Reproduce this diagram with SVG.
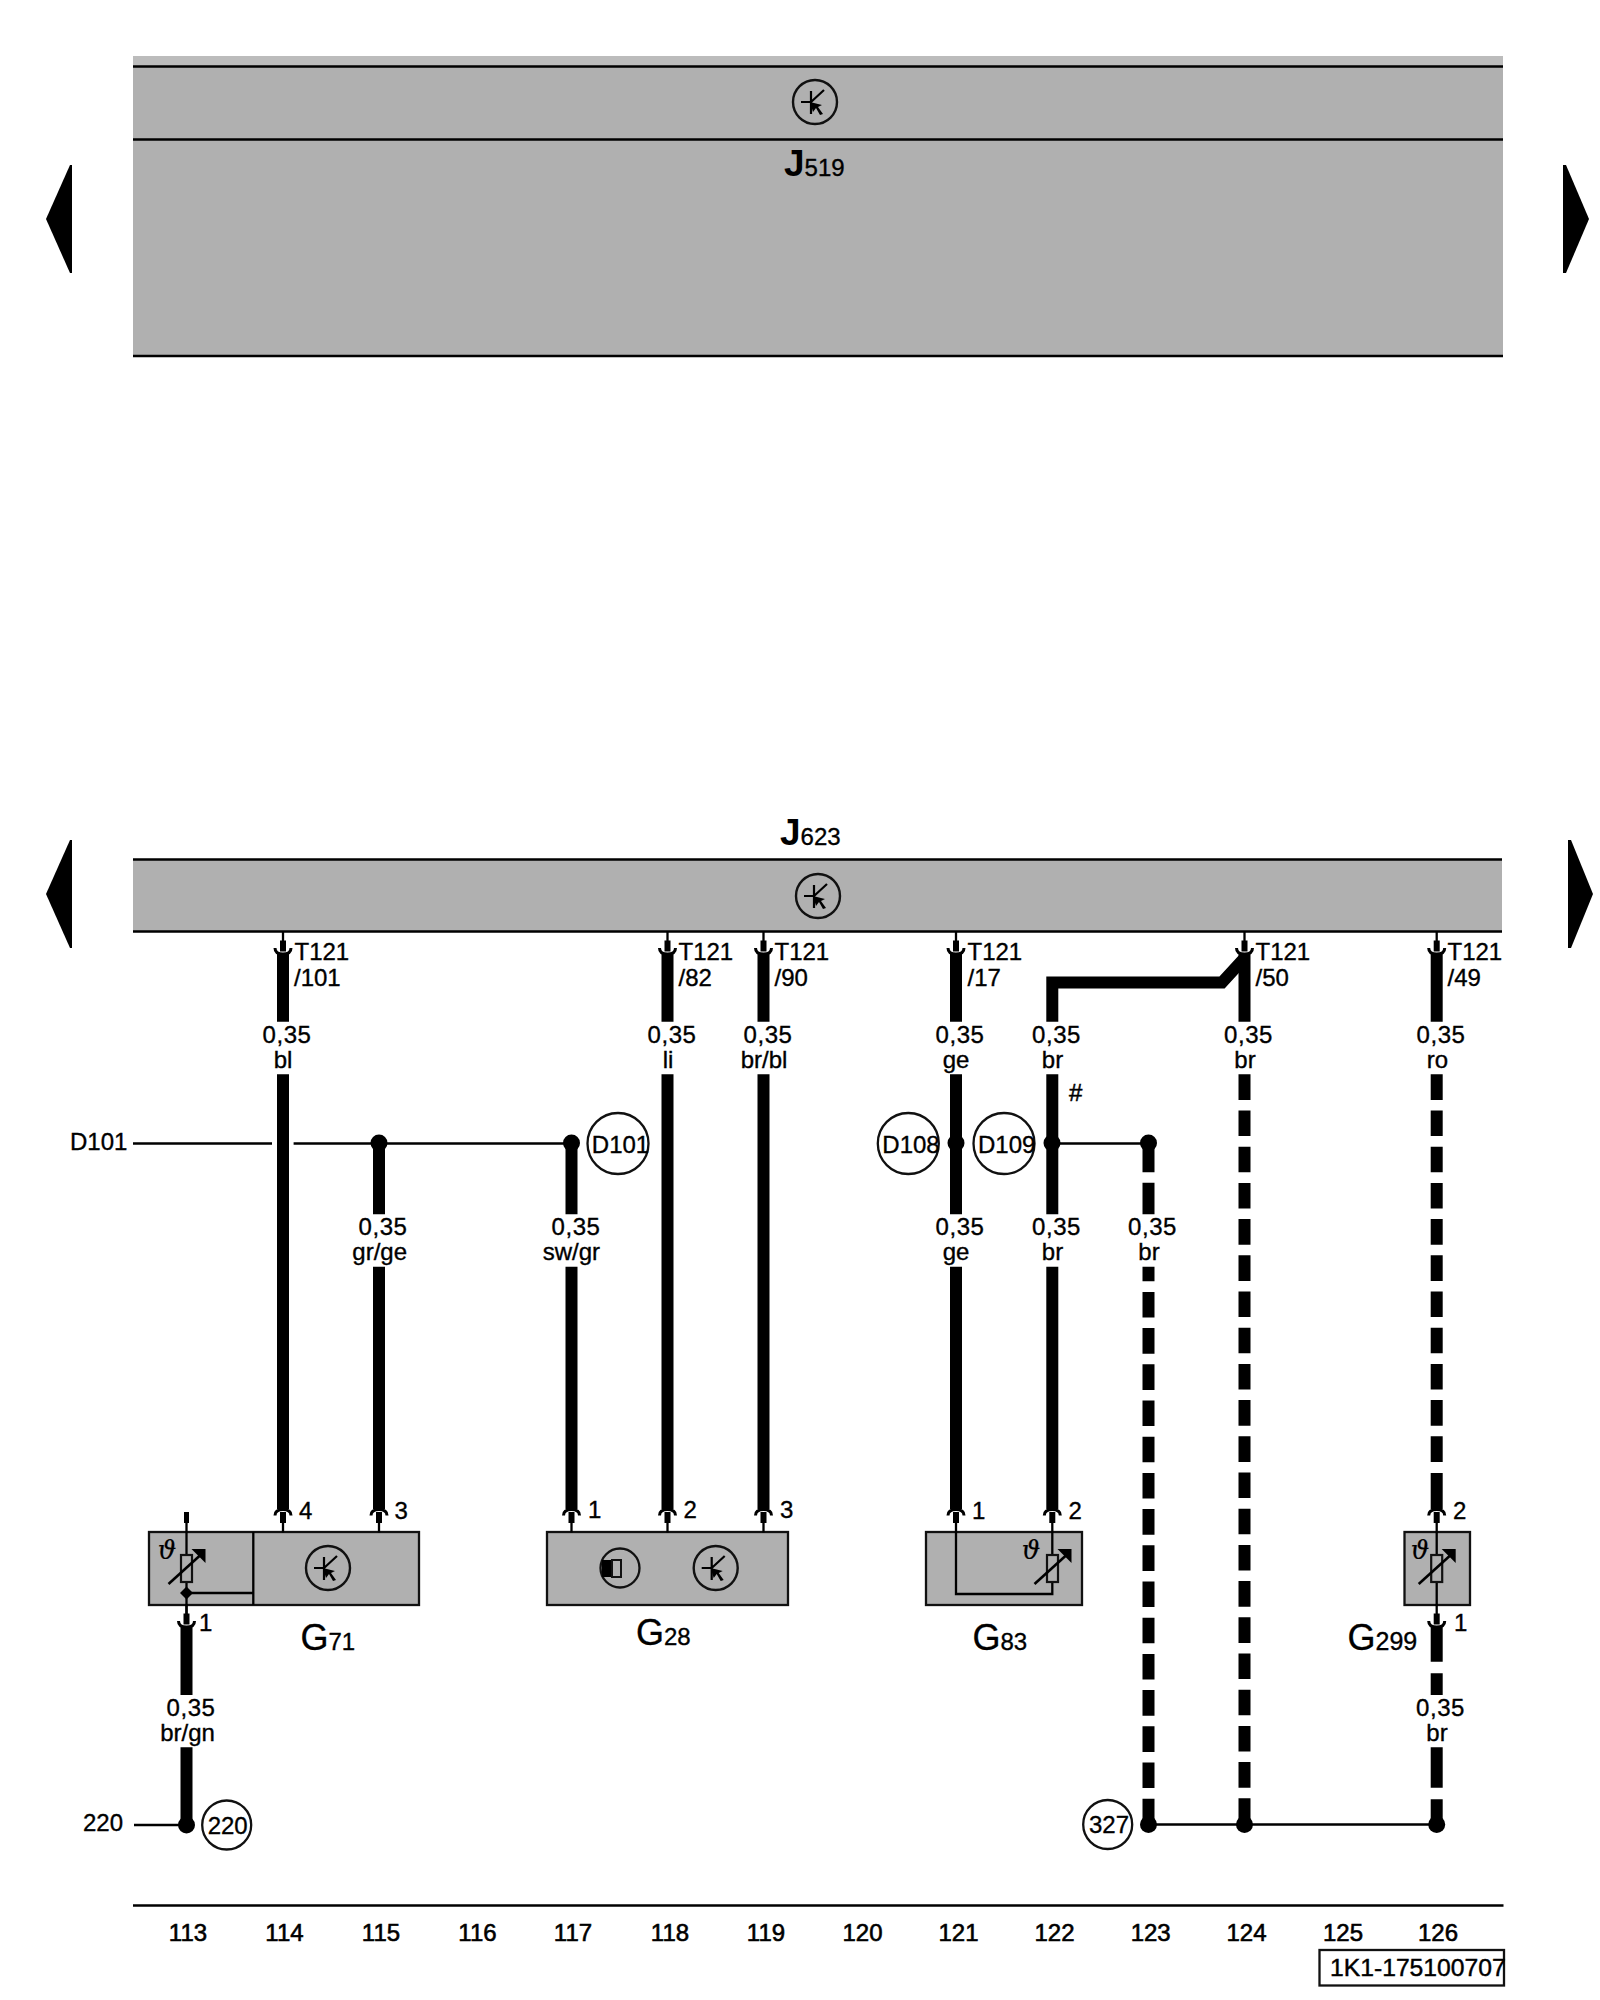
<svg xmlns="http://www.w3.org/2000/svg" xmlns:xlink="http://www.w3.org/1999/xlink" width="1600" height="2000" viewBox="0 0 1600 2000">
<style>
text{font-family:"Liberation Sans",Arial,sans-serif;font-size:24px;fill:#000;stroke:#000;stroke-width:.35px}
.m{text-anchor:middle}
.g{letter-spacing:.6px}
.n{text-anchor:middle;stroke:#000;stroke-width:.6px}
.w{fill:none;stroke:#000;stroke-width:12}
.d{stroke-dasharray:25.6 10.6}
.l{fill:none;stroke:#000;stroke-width:2.3}
.b{fill:#b0b0b0;stroke:#111;stroke-width:2.3}
.c{fill:none;stroke:#111;stroke-width:2.3}
.big{font-size:36px}
.J{font-size:37px;font-weight:bold;stroke-width:0}
.th{font-family:"DejaVu Serif","Liberation Serif",serif;font-size:26px;font-style:italic;text-anchor:middle;stroke-width:.2px}
</style>
<defs>
<g id="term">
<path d="M-8 7Q-8 1 0 1Q8 1 8 7" fill="none" stroke="#000" stroke-width="3"/>
<rect x="-3" y="3.5" width="6" height="11" fill="#000"/>
<path d="M0 14V24" stroke="#000" stroke-width="2.3"/>
</g>
<g id="trans">
<circle r="22" fill="none" stroke="#111" stroke-width="2.4"/>
<path d="M-14 0H-4M-4 -11V12M-4 0L9 -12" fill="none" stroke="#000" stroke-width="2.2"/>
<path d="M-5 0L7 3L3 5L8 12L5 13L1 6L-2 10Z" fill="#000"/>
</g>
<g id="ntc">
<rect x="-5.5" y="-14" width="11" height="27" fill="#b0b0b0" stroke="#111" stroke-width="2.2"/>
<path d="M-18 15L14 -14" fill="none" stroke="#000" stroke-width="2.6"/>
<path d="M5 -20H19V-6Z" fill="#000"/>
</g>
<path id="arrL" d="M72 0V108H70L46 54L70 0Z"/>
<path id="dot" d="M-8.5 0A8.5 8.5 0 1 0 8.5 0A8.5 8.5 0 1 0 -8.5 0Z"/>
</defs>

<g id="page-marks">
<use xlink:href="#arrL" href="#arrL" y="165"/>
<use xlink:href="#arrL" href="#arrL" y="840"/>
<path d="M1563 165H1566L1589 219L1566 273H1563Z"/>
<path d="M1568 840H1571L1593 894L1571 948H1568Z"/>
</g>

<g id="J519">
<rect x="133" y="56" width="1370" height="300" fill="#b0b0b0"/>
<rect x="133" y="56" width="1370" height="10" fill="#bcbcbc"/>
<path d="M133 66.5H1503M133 139.5H1503M133 356H1503" class="l"/>
<use xlink:href="#trans" href="#trans" x="815" y="102"/>
<text x="784" y="176"><tspan class="J">J</tspan><tspan>519</tspan></text>
</g>

<g id="J623">
<rect x="133" y="859" width="1369" height="72" fill="#b0b0b0"/>
<path d="M133 859.5H1502M133 931.5H1502" class="l"/>
<use xlink:href="#trans" href="#trans" x="818" y="896"/>
<text x="780" y="845"><tspan class="J">J</tspan><tspan>623</tspan></text>
</g>

<g id="connectors">
<path class="l" d="M133 1143.5H272M293.6 1143.5H571M1052 1143.5H1148.5M134 1825H187M1148 1824.5H1437"/>
<path class="w" d="M283 953V1021.7M283 1074.3V1509"/>
<path class="w" d="M379 1143V1214.3M379 1266.7V1509"/>
<path class="w" d="M571.5 1143V1214.3M571.5 1266.7V1509"/>
<path class="w" d="M667.5 953V1021.7M667.5 1074.3V1509"/>
<path class="w" d="M763.5 953V1021.7M763.5 1074.3V1509"/>
<path class="w" d="M956 953V1021.7M956 1074.3V1214.3M956 1266.7V1509"/>
<path class="w" d="M1052.3 1021.7V982.5H1222L1244.5 958"/>
<path class="w" d="M1052.3 1074.3V1214.3M1052.3 1266.7V1509"/>
<path class="w" d="M1148.5 1143V1172.3M1148.5 1182.7V1214.3"/>
<path class="w d" stroke-dashoffset="11" d="M1148.5 1266.7V1824"/>
<path class="w" d="M1244.5 953V1021.7"/>
<path class="w d" d="M1244.5 1074.3V1824"/>
<path class="w" d="M1436.7 953V1021.7"/>
<path class="w d" d="M1436.7 1074.3V1462"/>
<path class="w" d="M1436.7 1473V1509M1436.7 1627V1661.7M1436.7 1673.3V1695M1436.7 1747.3V1787.7M1436.7 1799.3V1824"/>
<path class="w" d="M186.5 1627V1695M186.5 1747.3V1825"/>
<g id="junctions">
<use xlink:href="#dot" href="#dot" x="379" y="1143"/>
<use xlink:href="#dot" href="#dot" x="571.5" y="1143"/>
<use xlink:href="#dot" href="#dot" x="956" y="1143"/>
<use xlink:href="#dot" href="#dot" x="1052" y="1143"/>
<use xlink:href="#dot" href="#dot" x="1148.5" y="1143"/>
<use xlink:href="#dot" href="#dot" x="186.5" y="1825"/>
<use xlink:href="#dot" href="#dot" x="1148.5" y="1824.5"/>
<use xlink:href="#dot" href="#dot" x="1244.5" y="1824.5"/>
<use xlink:href="#dot" href="#dot" x="1436.7" y="1824.5"/>
</g>
<g id="terminals-J623">
<use xlink:href="#term" href="#term" transform="translate(283 955) scale(1 -1)"/>
<use xlink:href="#term" href="#term" transform="translate(667.5 955) scale(1 -1)"/>
<use xlink:href="#term" href="#term" transform="translate(763.5 955) scale(1 -1)"/>
<use xlink:href="#term" href="#term" transform="translate(956 955) scale(1 -1)"/>
<use xlink:href="#term" href="#term" transform="translate(1244.5 955) scale(1 -1)"/>
<use xlink:href="#term" href="#term" transform="translate(1436.7 955) scale(1 -1)"/>
</g>
</g>

<g id="G71">
<rect class="b" x="149" y="1532" width="270" height="73"/>
<path class="l" d="M253.3 1532V1605M186.5 1523V1556M186.5 1582V1614M186.5 1593H253.3"/>
<path d="M184 1512H189V1523H184Z"/>
<path d="M186.5 1586.5L193 1593L186.5 1599.5L180 1593Z"/>
<use xlink:href="#ntc" href="#ntc" x="186.5" y="1569"/>
<use xlink:href="#trans" href="#trans" x="328" y="1568"/>
<text class="th" x="167" y="1559">ϑ</text>
<use xlink:href="#term" href="#term" x="283" y="1508.5"/>
<use xlink:href="#term" href="#term" x="379" y="1508.5"/>
<use xlink:href="#term" href="#term" transform="translate(186.5 1628) scale(1 -1)"/>
<text x="299" y="1519">4</text>
<text x="394.5" y="1519">3</text>
<text x="199" y="1631">1</text>
<text x="300.5" y="1650"><tspan class="big">G</tspan><tspan>71</tspan></text>
</g>

<g id="G28">
<rect class="b" x="547" y="1532" width="241" height="73"/>
<circle class="c" cx="620" cy="1568" r="19.5"/>
<rect x="602" y="1560" width="10" height="17"/>
<rect x="612" y="1560" width="9" height="17" fill="#b0b0b0" stroke="#111" stroke-width="2"/>
<use xlink:href="#trans" href="#trans" x="715.7" y="1568"/>
<use xlink:href="#term" href="#term" x="571.5" y="1508.5"/>
<use xlink:href="#term" href="#term" x="667.5" y="1508.5"/>
<use xlink:href="#term" href="#term" x="763.5" y="1508.5"/>
<text x="588" y="1518">1</text>
<text x="683.5" y="1518">2</text>
<text x="780" y="1518">3</text>
<text x="636" y="1645"><tspan class="big">G</tspan><tspan>28</tspan></text>
</g>

<g id="G83">
<rect class="b" x="926" y="1532" width="156" height="73"/>
<path class="l" d="M956 1532V1594H1052.3V1582M1052.3 1532V1556"/>
<use xlink:href="#ntc" href="#ntc" x="1052.5" y="1569"/>
<text class="th" x="1031" y="1559">ϑ</text>
<use xlink:href="#term" href="#term" x="956" y="1508.5"/>
<use xlink:href="#term" href="#term" x="1052.3" y="1508.5"/>
<text x="972" y="1519">1</text>
<text x="1068.5" y="1519">2</text>
<text x="972.5" y="1650"><tspan class="big">G</tspan><tspan>83</tspan></text>
</g>

<g id="G299">
<rect class="b" x="1404.5" y="1532" width="65.5" height="73"/>
<path class="l" d="M1436.7 1532V1556M1436.7 1582V1606"/>
<use xlink:href="#ntc" href="#ntc" x="1436.7" y="1569"/>
<text class="th" x="1420" y="1559">ϑ</text>
<use xlink:href="#term" href="#term" x="1436.7" y="1508.5"/>
<use xlink:href="#term" href="#term" transform="translate(1436.7 1628) scale(1 -1)"/>
<text x="1453" y="1519">2</text>
<text x="1454" y="1631">1</text>
<text x="1347.5" y="1650"><tspan class="big">G</tspan><tspan style="font-size:25px">299</tspan></text>
</g>

<g id="ref-D101"><circle class="c" cx="618" cy="1143.5" r="30.5"/><text class="m" x="620.5" y="1153">D101</text></g>
<g id="ref-D108"><circle class="c" cx="908.3" cy="1143.5" r="30.5"/><text class="m" x="911" y="1153">D108</text></g>
<g id="ref-D109"><circle class="c" cx="1004" cy="1143.5" r="30.5"/><text class="m" x="1006.7" y="1153">D109</text></g>
<g id="ref-220"><circle class="c" cx="226.7" cy="1825" r="24.5"/><text class="m" x="227.7" y="1833.5">220</text></g>
<g id="ref-327"><circle class="c" cx="1107.7" cy="1824.5" r="24.5"/><text class="m" x="1109" y="1833">327</text></g>

<g id="labels">
<text x="70" y="1150">D101</text>
<text x="83" y="1830.5">220</text>
<text x="1069" y="1101" style="font-size:24px;stroke-width:.5px">#</text>

<text x="294.5" y="959.5">T121</text><text x="294" y="986">/101</text>
<text x="678.5" y="959.5">T121</text><text x="678.5" y="986">/82</text>
<text x="774.5" y="959.5">T121</text><text x="774.5" y="986">/90</text>
<text x="967.5" y="959.5">T121</text><text x="967.5" y="986">/17</text>
<text x="1255.5" y="959.5">T121</text><text x="1255.5" y="986">/50</text>
<text x="1447.5" y="959.5">T121</text><text x="1447.5" y="986">/49</text>

<g id="size-labels-top">
<text class="m g" x="287" y="1043">0,35</text><text class="m" x="283" y="1068">bl</text>
<text class="m g" x="672" y="1043">0,35</text><text class="m" x="668" y="1068">li</text>
<text class="m g" x="768" y="1043">0,35</text><text class="m" x="764" y="1068">br/bl</text>
<text class="m g" x="960" y="1043">0,35</text><text class="m" x="956" y="1068">ge</text>
<text class="m g" x="1056.5" y="1043">0,35</text><text class="m" x="1052.5" y="1068">br</text>
<text class="m g" x="1248.5" y="1043">0,35</text><text class="m" x="1245" y="1068">br</text>
<text class="m g" x="1441" y="1043">0,35</text><text class="m" x="1437.5" y="1068">ro</text>
</g>
<g id="size-labels-mid">
<text class="m g" x="383" y="1235">0,35</text><text class="m" x="379.7" y="1260">gr/ge</text>
<text class="m g" x="576" y="1235">0,35</text><text class="m" x="571.4" y="1260">sw/gr</text>
<text class="m g" x="960" y="1235">0,35</text><text class="m" x="956" y="1260">ge</text>
<text class="m g" x="1056.5" y="1235">0,35</text><text class="m" x="1052.5" y="1260">br</text>
<text class="m g" x="1152.5" y="1235">0,35</text><text class="m" x="1149" y="1260">br</text>
</g>
<g id="size-labels-low">
<text class="m g" x="191" y="1716">0,35</text><text class="m" x="187.5" y="1741">br/gn</text>
<text class="m g" x="1440.5" y="1716">0,35</text><text class="m" x="1437" y="1741">br</text>
</g>
</g>

<g id="footer">
<path class="l" d="M133 1905.5H1503.5"/>
<text class="n" x="188" y="1941">113</text>
<text class="n" x="284.5" y="1941">114</text>
<text class="n" x="381" y="1941">115</text>
<text class="n" x="477.5" y="1941">116</text>
<text class="n" x="573" y="1941">117</text>
<text class="n" x="670" y="1941">118</text>
<text class="n" x="766" y="1941">119</text>
<text class="n" x="862.5" y="1941">120</text>
<text class="n" x="958.5" y="1941">121</text>
<text class="n" x="1054.5" y="1941">122</text>
<text class="n" x="1150.7" y="1941">123</text>
<text class="n" x="1246.5" y="1941">124</text>
<text class="n" x="1343" y="1941">125</text>
<text class="n" x="1438" y="1941">126</text>
<rect class="c" x="1319.5" y="1950" width="184.5" height="35.5"/>
<text x="1330" y="1975.5" style="font-size:24.7px;stroke-width:.45px">1K1-175100707</text>
</g>
</svg>
